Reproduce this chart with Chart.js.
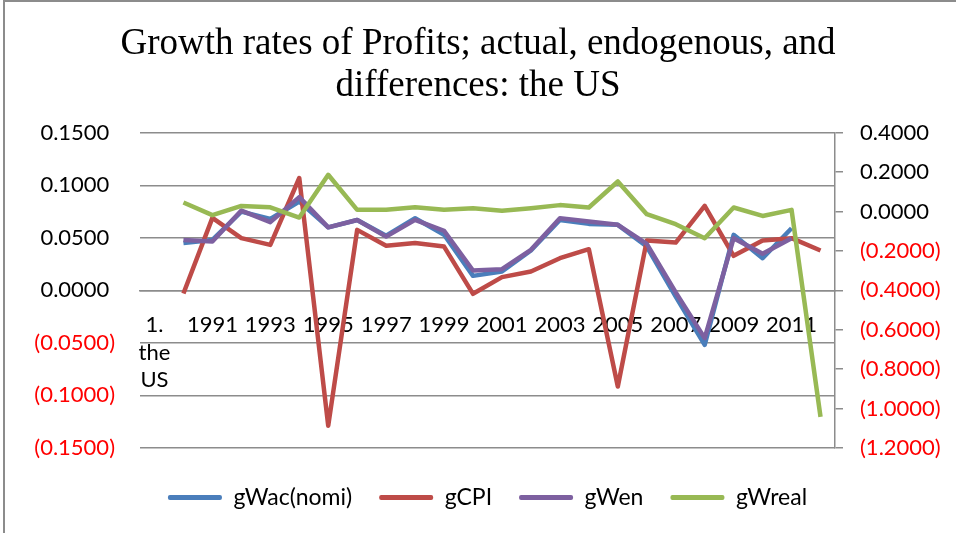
<!DOCTYPE html>
<html>
<head>
<meta charset="utf-8">
<script src="https://cdn.jsdelivr.net/npm/chart.js@4.4.1/dist/chart.umd.min.js"></script>
<style>
  body { margin: 0; background: #fff; }
  #wrap { position: relative; width: 956px; height: 533px; }
  #frame { position: absolute; left: 3px; top: 0; right: 0; bottom: 0;
           border-left: 2px solid #8c8c8c; border-top: 2px solid #8c8c8c; }
  canvas { position: absolute; left: 0; top: 0; }
</style>
</head>
<body>
<div id="wrap">
  <div id="frame"></div>
  <canvas id="chart" width="956" height="533"></canvas>
</div>
<script>
const categories = ['1. the US', '1990', '1991', '1992', '1993', '1994', '1995', '1996', '1997', '1998',
  '1999', '2000', '2001', '2002', '2003', '2004', '2005', '2006', '2007', '2008', '2009', '2010', '2011', '2012'];

const gWacNomi = [null, 0.045, 0.048, 0.075, 0.068, 0.0846, 0.060, 0.067, 0.052, 0.0687, 0.0529, 0.0138,
  0.018, 0.038, 0.067, 0.0633, 0.0624, 0.0417, -0.006, -0.0519, 0.0529, 0.0306, 0.0592, null];
const gCPI = [null, -0.003, 0.069, 0.0497, 0.0433, 0.107, -0.129, 0.0576, 0.0424, 0.045, 0.0417, -0.0033,
  0.0126, 0.0179, 0.0306, 0.0392, -0.0916, 0.0474, 0.0455, 0.0805, 0.0329, 0.0474, 0.0497, 0.0379];
const gWen = [null, 0.048, 0.0465, 0.076, 0.065, 0.0888, 0.060, 0.067, 0.0512, 0.0671, 0.0567, 0.0189,
  0.0202, 0.0386, 0.0687, 0.0655, 0.0624, 0.0443, -0.002, -0.0455, 0.0497, 0.0348, 0.0497, null];
// gWreal is plotted against the right-hand axis
const gWreal = [null, 0.046, -0.018, 0.029, 0.022, -0.03, 0.187, 0.009, 0.009, 0.0226, 0.009, 0.017,
  0.004, 0.017, 0.033, 0.021, 0.153, -0.013, -0.064, -0.135, 0.021, -0.022, 0.009, -1.043];

const leftMin = -0.15, leftMax = 0.15, leftStep = 0.05;
const rightMin = -1.2, rightMax = 0.4, rightStep = 0.2;

const font = 'Lato';
const gridColor = '#8c8c8c';

function acctFormat(v) {
  const r = Math.round(v * 10000) / 10000;
  if (r < 0) return '(' + (-r).toFixed(4) + ')';
  return r.toFixed(4);
}
function tickColor(ctx) {
  return ctx.tick && ctx.tick.value < -1e-9 ? '#ff0000' : '#000000';
}

function line(label, data, color, axis, order) {
  return {
    label: label,
    data: data,
    borderColor: color,
    backgroundColor: color,
    borderWidth: 4.5,
    pointRadius: 0,
    tension: 0,
    yAxisID: axis,
    order: order,
    borderJoinStyle: 'round',
    spanGaps: false
  };
}

const ctx = document.getElementById('chart').getContext('2d');

const chart = new Chart(ctx, {
  type: 'line',
  data: {
    labels: categories,
    datasets: [
      line('gWac(nomi)', gWacNomi, '#4a7ebb', 'y', 3),
      line('gCPI', gCPI, '#be4b48', 'y', 2),
      line('gWen', gWen, '#7d60a0', 'y', 1),
      line('gWreal', gWreal, '#98b954', 'y1', 0)
    ]
  },
  options: {
    responsive: false,
    animation: false,
    layout: { padding: { left: 0, right: 0, top: 0, bottom: 14 } },
    plugins: {
      tooltip: { enabled: false },
      title: {
        display: true,
        text: ['Growth rates of Profits; actual, endogenous, and', 'differences: the US'],
        color: '#000',
        font: { family: 'Liberation Serif', size: 37, weight: 'normal', lineHeight: 1.12 },
        padding: { top: 24, bottom: 26 }
      },
      legend: {
        position: 'bottom',
        fullSize: false,
        title: { display: true, text: ' ', font: { size: 1 }, padding: { top: 10, bottom: 0 } },
        labels: {
          color: '#000',
          font: { family: font, size: 23 },
          boxWidth: 54,
          boxHeight: 5,
          padding: 27,
          sort: (a, b) => a.datasetIndex - b.datasetIndex,
          generateLabels: (c) => Chart.defaults.plugins.legend.labels.generateLabels(c)
            .map(l => Object.assign(l, { lineWidth: 0, borderRadius: 2 }))
        }
      }
    },
    scales: {
      x: {
        type: 'category',
        offset: true,
        position: { y: 0 },
        grid: { display: false, drawTicks: false },
        border: { display: true, color: gridColor, width: 1.5 },
        ticks: {
          autoSkip: false,
          maxRotation: 0,
          padding: 21,
          color: '#000',
          font: { family: font, size: 22, lineHeight: 1.25 },
          callback: function (value, index) {
            if (index % 2 !== 0) return '';
            const lab = this.getLabelForValue(value);
            return index === 0 ? lab.split(' ') : lab;
          }
        }
      },
      y: {
        position: 'left',
        min: leftMin,
        max: leftMax,
        afterFit: (s) => { s.width = 140; },
        grid: { color: gridColor, lineWidth: 1.5, drawTicks: false },
        border: { display: false },
        ticks: {
          stepSize: leftStep,
          padding: 25,
          color: tickColor,
          font: { family: font, size: 22 },
          callback: (v) => {
            const s = acctFormat(v);
            return s.charAt(0) === '(' ? s : s + ' ';
          }
        }
      },
      y1: {
        position: 'right',
        min: rightMin,
        max: rightMax,
        afterFit: (s) => { s.width = 121; },
        grid: { drawOnChartArea: false, color: gridColor, lineWidth: 1.5, tickLength: 8 },
        border: { display: true, color: gridColor, width: 1.5 },
        ticks: {
          stepSize: rightStep,
          padding: 17,
          color: tickColor,
          font: { family: font, size: 22 },
          callback: (v) => acctFormat(v)
        }
      }
    }
  }
});
</script>
</body>
</html>
